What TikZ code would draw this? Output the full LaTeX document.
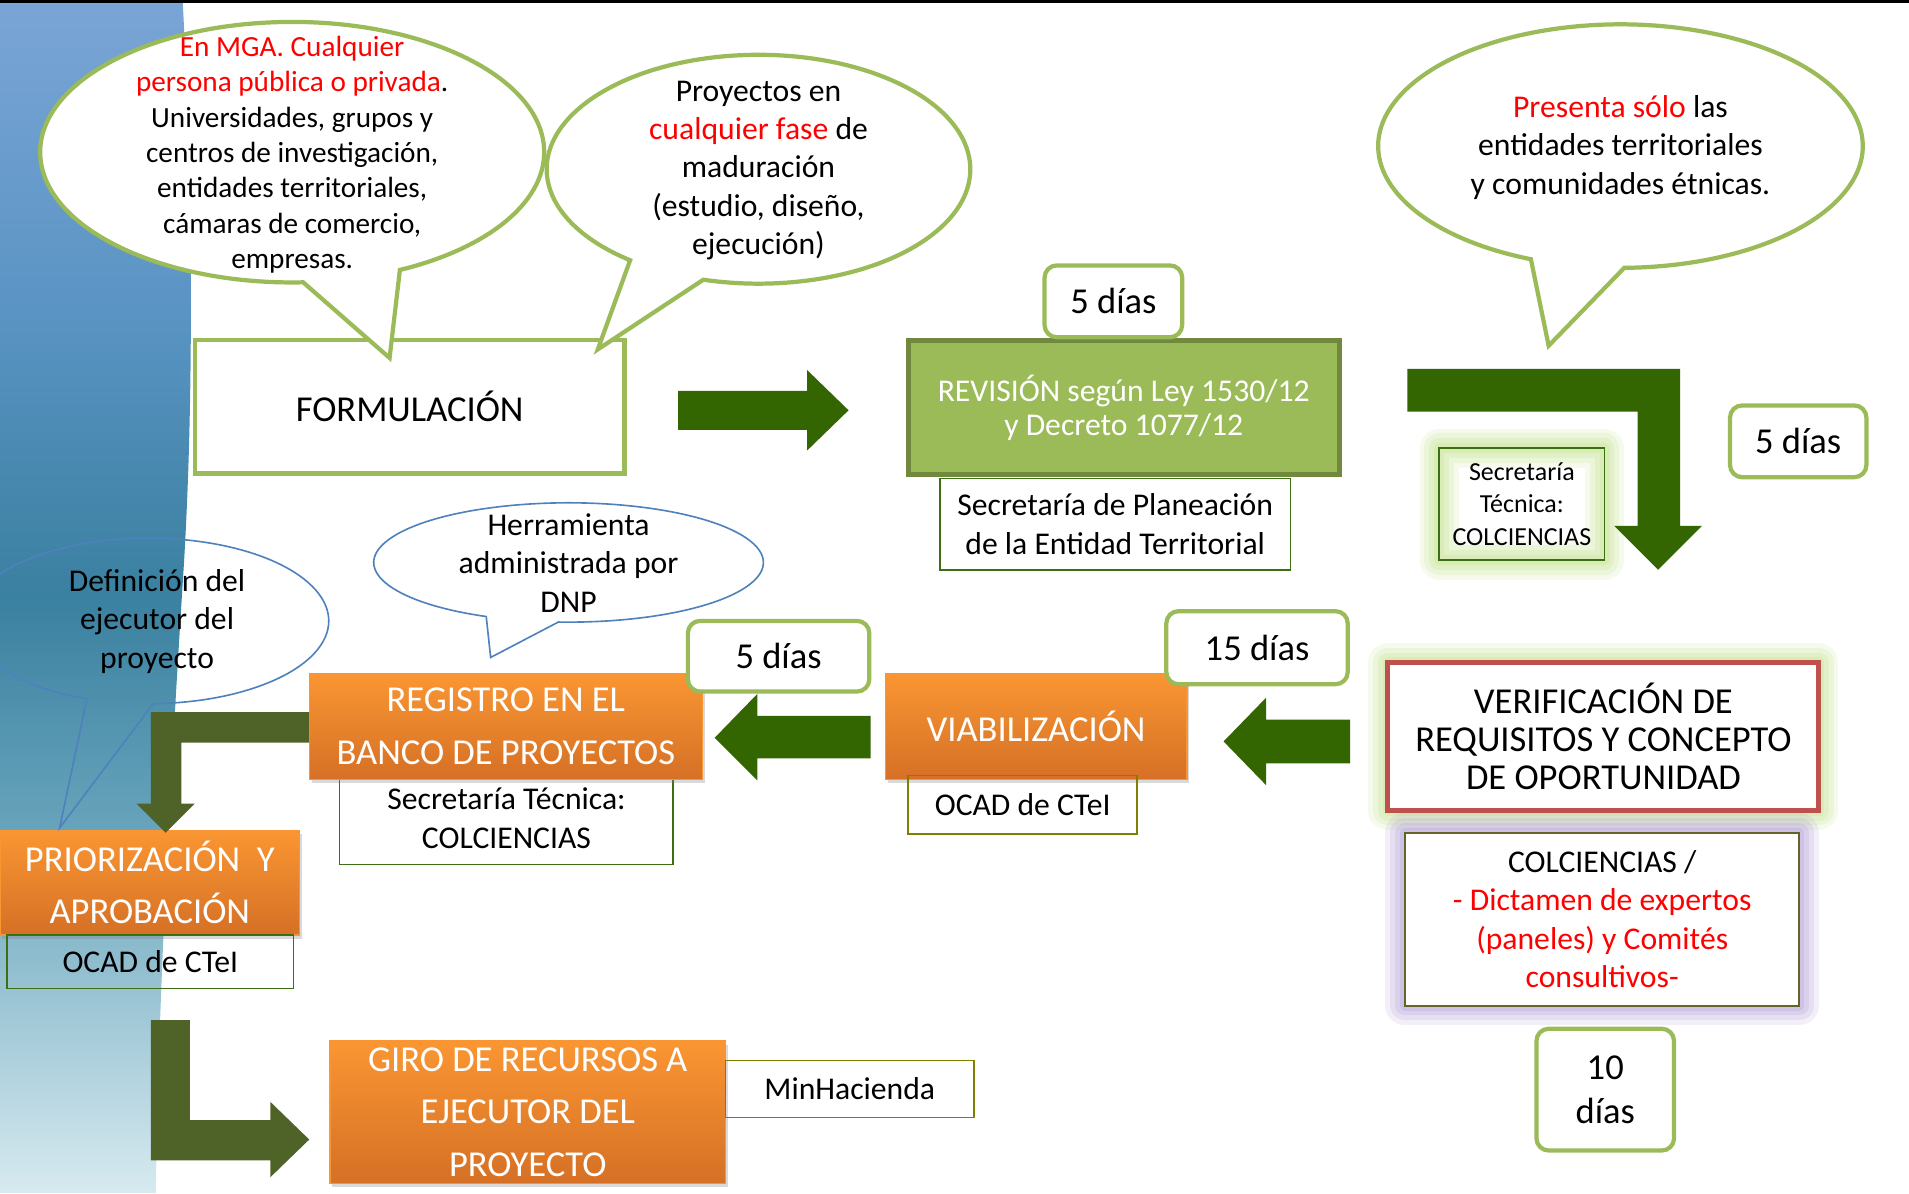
\documentclass[tikz,border=0pt]{standalone}
\usepackage{fontspec}
\setmainfont{Carlito}
\usetikzlibrary{shadows}

\definecolor{bubGreen}{RGB}{155,187,89}
\definecolor{revFill}{RGB}{155,187,89}
\definecolor{revDraw}{RGB}{113,137,62}
\definecolor{arrGreen}{RGB}{51,102,0}
\definecolor{arrOlive}{RGB}{79,98,40}
\definecolor{orTop}{RGB}{250,150,50}
\definecolor{orBot}{RGB}{213,112,38}
\definecolor{txtRed}{RGB}{255,0,0}
\definecolor{verRed}{RGB}{192,80,77}
\definecolor{glowG}{RGB}{190,222,130}
\definecolor{glowP}{RGB}{170,150,210}
\definecolor{noteGreen}{RGB}{60,110,20}
\definecolor{noteOlive}{RGB}{128,128,0}
\definecolor{colcEdge}{RGB}{100,100,40}
\definecolor{bubBlue}{RGB}{79,129,189}
\definecolor{bandA}{RGB}{122,165,214}
\definecolor{bandA2}{RGB}{90,148,196}
\definecolor{bandB}{RGB}{58,128,160}
\definecolor{bandC}{RGB}{105,165,188}
\definecolor{bandD}{RGB}{215,234,240}

\pgfdeclareverticalshading{band}{100bp}{color(0bp)=(bandD); color(25bp)=(bandD); color(40bp)=(bandC); color(50bp)=(bandB); color(62bp)=(bandA2); color(75bp)=(bandA); color(100bp)=(bandA)}

\tikzset{every picture/.style={line width=0.75pt}}
\tikzset{
  txtM/.style={font=\fontsize{19.5}{23.6}\selectfont},
  txtL/.style={font=\fontsize{22.5}{24}\selectfont},
  wh/.style 2 args={minimum width=#1*0.75pt, minimum height=#2*0.75pt, inner sep=0pt},
  bubble/.style={draw=bubGreen, line width=2.6pt, fill=white},
  bluebubble/.style={draw=bubBlue, line width=1pt},
  stepbox/.style={draw=bubGreen, line width=2.6pt, fill=white, align=center, txtL},
  daybox/.style={draw=bubGreen, line width=2.6pt, fill=white, rounded corners=7.5pt, align=center, txtL},
  orbox/.style={top color=orTop, bottom color=orBot, draw=orTop, line width=0.75pt, text=white, align=center, txtL,
    drop shadow={opacity=0.3, shadow xshift=1.5pt, shadow yshift=-2.5pt}},
  notebox/.style={draw=#1, line width=1pt, align=center, txtM},
  notebox/.default=noteGreen,
  glow/.style={preaction={draw=#1, draw opacity=.15, line width=24pt, line join=round},
    preaction={draw=#1, draw opacity=.18, line width=18pt, line join=round},
    preaction={draw=#1, draw opacity=.2, line width=12pt, line join=round},
    preaction={draw=#1, draw opacity=.25, line width=6pt, line join=round}},
  blockarrow/.style={fill=#1, draw=none}
}

\begin{document}
\begin{tikzpicture}[x=0.75pt,y=0.75pt,yscale=-1,xscale=1]
\useasboundingbox (0,0) rectangle (1568,980);
\clip (0,0) rectangle (1568,980);

% background
\shade [shading=band] (0,0) -- (150,0) .. controls (158,150) and (160,330) .. (150,480) .. controls (140,640) and (130,820) .. (128,980) -- (0,980) -- cycle;
\fill [black] (0,0) rectangle (1568,2.5);

% top row
\node (formul) at (336.5,334) [stepbox, wh={353}{110}] {FORMULACIÓN};
\node (revis) at (923,335) [wh={354}{110}, fill=revFill, draw=revDraw, line width=3pt, text=white, align=center, font=\fontsize{19.5}{21}\selectfont] {REVISIÓN según Ley 1530/12\\ y Decreto 1077/12};
\node (dias1) at (914.5,247.5) [daybox, wh={113}{59}] {5 días};
\node (secplan) at (916,430.5) [notebox, wh={288}{75}, font=\fontsize{19.5}{24}\selectfont] {Secretaría de Planeación\\ de la Entidad Territorial};
\node (sectec1) at (1250,414) [glow=glowG, draw=noteGreen, line width=1pt, wh={136}{92}, align=center, font=\fontsize{16}{19.9}\selectfont] {Secretaría\\ Técnica:\\ COLCIENCIAS};
\node (dias2) at (1477,362.5) [daybox, wh={112}{59}] {5 días};

% right column
\node (verif) at (1317,605) [glow=glowG, fill=white, draw=verRed, line width=3pt, wh={354}{122}, align=center, font=\fontsize{22.5}{23.6}\selectfont] {VERIFICACIÓN DE\\ REQUISITOS Y CONCEPTO\\ DE OPORTUNIDAD};
\node (colc) at (1316,755) [glow=glowP, fill=white, draw=colcEdge, line width=1.2pt, wh={324}{142}, align=center, font=\fontsize{19.5}{23.75}\selectfont] {COLCIENCIAS /\\ \textcolor{txtRed}{- Dictamen de expertos}\\ \textcolor{txtRed}{(paneles) y Comités}\\ \textcolor{txtRed}{consultivos-}};
\node (dias10) at (1318.5,895) [daybox, wh={113}{100}, font=\fontsize{22.5}{27}\selectfont] {10\\ días};

% middle row
\node (viab) at (851,596.5) [orbox, wh={248}{87}] {VIABILIZACIÓN};
\node (ocad1) at (840,661) [notebox=noteOlive, wh={188}{48}] {OCAD de CTeI};
\node (dias15) at (1032.5,532) [daybox, wh={149}{60}] {15 días};
\node (sectec2) at (416,672) [notebox, wh={274}{76}, font=\fontsize{19.5}{24}\selectfont] {Secretaría Técnica:\\ COLCIENCIAS};
\node (regis) at (415.5,596.5) [orbox, wh={323}{87}, font=\fontsize{22.5}{33}\selectfont] {REGISTRO EN EL\\ BANCO DE PROYECTOS};
\node (dias5) at (639.5,539) [daybox, wh={149}{58}] {5 días};

% left column
\node (prior) at (123,725) [orbox, wh={246}{86}, font=\fontsize{22.5}{32.25}\selectfont] {PRIORIZACIÓN~~Y\\ APROBACIÓN};
\node (ocad2) at (123.5,790) [notebox, wh={235}{44}] {OCAD de CTeI};
\node (giro) at (433.5,913.5) [orbox, wh={325}{117}, font=\fontsize{22.5}{32.25}\selectfont] {GIRO DE RECURSOS A\\ EJECUTOR DEL\\ PROYECTO};
\node (minh) at (698,894.5) [notebox=noteOlive, wh={204}{47}] {MinHacienda};

% block arrows
\fill [blockarrow=arrGreen] (557,321) -- (663,321) -- (663,304) -- (697,337) -- (663,370) -- (663,353) -- (557,353) -- cycle;
\fill [blockarrow=arrGreen] (1156,303) -- (1380,303) -- (1380,432) -- (1398,432) -- (1362,468) -- (1326,432) -- (1345,432) -- (1345,338) -- (1156,338) -- cycle;
\fill [blockarrow=arrGreen] (1109,591) -- (1040,591) -- (1040,573) -- (1005,609) -- (1040,645) -- (1040,627) -- (1109,627) -- cycle;
\fill [blockarrow=arrGreen] (715,588) -- (622,588) -- (622,570) -- (587,606) -- (622,641) -- (622,623) -- (715,623) -- cycle;
\fill [blockarrow=arrOlive] (254,585) -- (254,610) -- (149,610) -- (149,660) -- (160,660) -- (136,684) -- (112,660) -- (124,660) -- (124,585) -- cycle;
\fill [blockarrow=arrOlive] (124,838) -- (156,838) -- (156,920) -- (222,920) -- (222,905) -- (254,936) -- (222,967) -- (222,953) -- (124,953) -- cycle;

% speech bubbles
\draw [bubble] (240,125) ++(87.5:207 and 107) arc [start angle=87.5, end angle=424.7, x radius=207, y radius=107] -- (320,294) -- cycle;
\draw [bubble] (623,139) ++(127.3:174 and 94) arc [start angle=127.3, end angle=465.1, x radius=174, y radius=94] -- (491,287) -- cycle;
\draw [bubble] (1331,120) ++(111.7:199 and 100) arc [start angle=111.7, end angle=449.1, x radius=199, y radius=100] -- (1272,284) -- cycle;
\draw [bluebubble, fill=white] (467,462) ++(115:160 and 49) arc [start angle=115, end angle=453, x radius=160, y radius=49] -- (403,540) -- cycle;
\draw [bluebubble] (122,510) ++(110:148 and 68) arc [start angle=110, end angle=448.5, x radius=148, y radius=68] -- (49,680) -- cycle;

\node (b1txt) at (240,127) [align=center, font=\fontsize{18}{21.75}\selectfont] {\textcolor{txtRed}{En MGA. Cualquier}\\ \textcolor{txtRed}{persona pública o privada}.\\ Universidades, grupos y\\ centros de investigación,\\ entidades territoriales,\\ cámaras de comercio,\\ empresas.};
\node (b2txt) at (623,140) [align=center, txtM] {Proyectos en\\ \textcolor{txtRed}{cualquier fase} de\\ maduración\\ (estudio, diseño,\\ ejecución)};
\node (b3txt) at (1331,121) [align=center, txtM] {\textcolor{txtRed}{Presenta sólo} las\\ entidades territoriales\\ y comunidades étnicas.};
\node (b4txt) at (467,462.5) [align=center, txtM] {Herramienta\\ administrada por\\ DNP};
\node (b5txt) at (129,510.5) [align=center, txtM] {Definición del\\ ejecutor del\\ proyecto};

\end{tikzpicture}
\end{document}
